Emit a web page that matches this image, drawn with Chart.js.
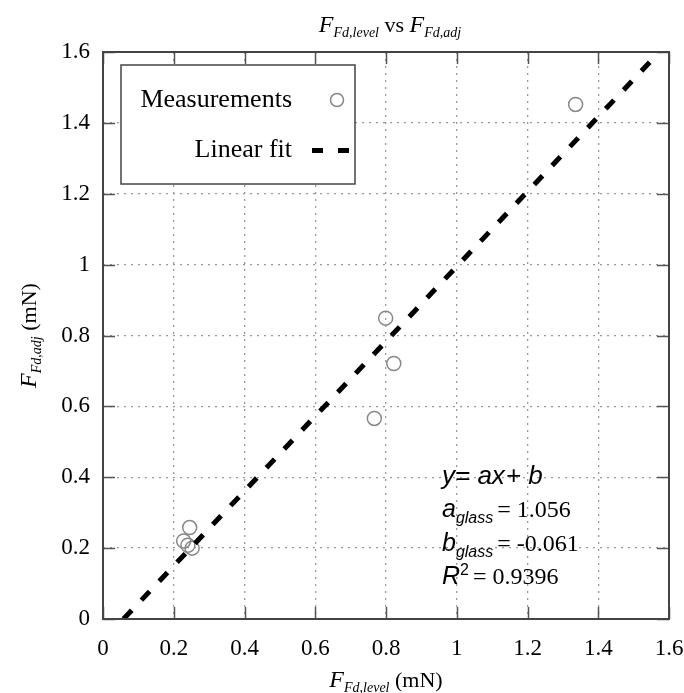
<!DOCTYPE html>
<html><head><meta charset="utf-8">
<script src="https://cdn.jsdelivr.net/npm/chart.js@4/dist/chart.umd.min.js"></script>
<style>html,body{margin:0;padding:0;background:#fff}#wrap{width:684px;height:693px;position:relative}</style>
</head><body><div id="wrap"><canvas id="c" width="684" height="693"></canvas></div>
<script>
// ---- data ----
const measX = [0.245, 0.228, 0.240, 0.252, 0.767, 0.799, 0.822, 1.336];
const measY = [0.258, 0.220, 0.208, 0.200, 0.566, 0.849, 0.721, 1.452];
const fitX = [0.058, 1.573];
const fitY = [0, 1.6];
const xTickLabels = ['0','0.2','0.4','0.6','0.8','1','1.2','1.4','1.6'];
const yTickLabels = ['0','0.2','0.4','0.6','0.8','1','1.2','1.4','1.6'];
const seriesNames = ['Measurements', 'Linear fit'];
const fitA = '1.056';
const fitB = '-0.061';
const fitR2 = '0.9396';

const SERIF = '"Liberation Serif", "Times New Roman", serif';
const SANS = '"Liberation Sans", Arial, sans-serif';

function drawRich(ctx, parts, x, y, align) {
  let w = 0;
  parts.forEach(p => { ctx.font = p.f; p.w = ctx.measureText(p.t).width; w += p.w + (p.gap || 0); });
  let cx = align === 'center' ? x - w / 2 : x;
  ctx.textBaseline = 'alphabetic';
  ctx.textAlign = 'left';
  parts.forEach(p => { ctx.font = p.f; ctx.fillText(p.t, cx, y + (p.dy || 0)); cx += p.w + (p.gap || 0); });
}

const decor = {
  id: 'decor',
  afterDraw(chart) {
    const ctx = chart.ctx;
    const a = chart.chartArea;
    const xs = chart.scales.x, ys = chart.scales.y;
    ctx.save();
    // inside tick marks on all four sides
    ctx.strokeStyle = '#555';
    ctx.lineWidth = 1.5;
    const tl = 12;
    ctx.beginPath();
    xs.ticks.forEach(t => {
      const px = Math.round(xs.getPixelForValue(t.value)) + 0.5;
      ctx.moveTo(px, a.bottom); ctx.lineTo(px, a.bottom - tl);
      ctx.moveTo(px, a.top); ctx.lineTo(px, a.top + tl);
    });
    ys.ticks.forEach(t => {
      const py = Math.round(ys.getPixelForValue(t.value)) + 0.5;
      ctx.moveTo(a.left, py); ctx.lineTo(a.left + tl, py);
      ctx.moveTo(a.right, py); ctx.lineTo(a.right - tl, py);
    });
    ctx.stroke();
    // frame
    ctx.lineWidth = 2;
    ctx.strokeStyle = '#444';
    ctx.strokeRect(a.left, a.top, a.right - a.left, a.bottom - a.top);

    ctx.fillStyle = '#000';
    // title
    drawRich(ctx, [
      {t: 'F', f: 'italic 24px ' + SERIF},
      {t: 'Fd,level', f: 'italic 14px ' + SERIF, dy: 5},
      {t: ' vs ', f: '22px ' + SERIF},
      {t: 'F', f: 'italic 24px ' + SERIF},
      {t: 'Fd,adj', f: 'italic 14px ' + SERIF, dy: 5}
    ], (a.left + a.right) / 2 + 4, 32, 'center');
    // x axis title
    drawRich(ctx, [
      {t: 'F', f: 'italic 24px ' + SERIF},
      {t: 'Fd,level', f: 'italic 14px ' + SERIF, dy: 5},
      {t: ' (mN)', f: '22px ' + SERIF}
    ], (a.left + a.right) / 2, 687, 'center');
    // y axis title
    ctx.save();
    ctx.translate(36, (a.top + a.bottom) / 2);
    ctx.rotate(-Math.PI / 2);
    drawRich(ctx, [
      {t: 'F', f: 'italic 24px ' + SERIF},
      {t: 'Fd,adj', f: 'italic 14px ' + SERIF, dy: 5},
      {t: ' (mN)', f: '22px ' + SERIF}
    ], 0, 0, 'center');
    ctx.restore();

    // legend box
    const lx = 121, ly = 65, lw = 234, lh = 119;
    ctx.fillStyle = '#fff';
    ctx.fillRect(lx, ly, lw, lh);
    ctx.lineWidth = 1.5;
    ctx.strokeStyle = '#444';
    ctx.strokeRect(lx, ly, lw, lh);
    ctx.fillStyle = '#000';
    ctx.font = '26px ' + SERIF;
    ctx.textAlign = 'right';
    ctx.textBaseline = 'middle';
    ctx.fillText(seriesNames[0], 292, 100);
    ctx.fillText(seriesNames[1], 292, 150);
    // legend symbols
    ctx.beginPath();
    ctx.arc(337, 100, 6.5, 0, Math.PI * 2);
    ctx.strokeStyle = '#888';
    ctx.lineWidth = 1.5;
    ctx.stroke();
    ctx.fillStyle = '#000';
    ctx.fillRect(312, 148, 11, 5);
    ctx.fillRect(338, 148, 11, 5);

    // stats annotation
    ctx.fillStyle = '#000';
    const sx = 442;
    drawRich(ctx, [{t: 'y', f: 'italic 26px ' + SANS}, {t: '= ', f: 'italic 26px ' + SANS}, {t: 'ax', f: 'italic 26px ' + SANS, gap: 1}, {t: '+ ', f: 'italic 26px ' + SANS}, {t: 'b', f: 'italic 26px ' + SANS}], sx, 484, 'left');
    drawRich(ctx, [{t: 'a', f: 'italic 25px ' + SANS}, {t: 'glass', f: 'italic 16px ' + SANS, dy: 6, gap: 4}, {t: '= ' + fitA, f: '24px ' + SERIF}], sx, 517, 'left');
    drawRich(ctx, [{t: 'b', f: 'italic 25px ' + SANS}, {t: 'glass', f: 'italic 16px ' + SANS, dy: 6, gap: 4}, {t: '= ' + fitB, f: '24px ' + SERIF}], sx, 551, 'left');
    drawRich(ctx, [{t: 'R', f: 'italic 25px ' + SANS}, {t: '2', f: '16px ' + SANS, dy: -9, gap: 4}, {t: '= ' + fitR2, f: '24px ' + SERIF}], sx, 584, 'left');
    ctx.restore();
  }
};

const ctx = document.getElementById('c').getContext('2d');
new Chart(ctx, {
  type: 'scatter',
  data: {
    datasets: [
      {
        label: seriesNames[1],
        data: fitX.map((x, i) => ({x, y: fitY[i]})),
        showLine: true,
        borderColor: '#000',
        borderWidth: 5,
        borderDash: [12, 14],
        pointRadius: 0,
        fill: false
      },
      {
        label: seriesNames[0],
        data: measX.map((x, i) => ({x, y: measY[i]})),
        pointStyle: 'circle',
        pointRadius: 7,
        pointBorderWidth: 1.5,
        borderColor: '#888',
        backgroundColor: 'rgba(0,0,0,0)',
        pointBackgroundColor: 'rgba(0,0,0,0)',
        pointBorderColor: '#888'
      }
    ]
  },
  options: {
    responsive: false,
    animation: false,
    devicePixelRatio: 1,
    layout: {padding: {left: 0, top: 52, right: 15, bottom: 0}},
    plugins: {legend: {display: false}, title: {display: false}, tooltip: {enabled: false}},
    scales: {
      x: {
        type: 'linear', min: 0, max: 1.6,
        ticks: {stepSize: 0.2, padding: 16, color: '#000', font: {family: SERIF, size: 23},
          callback: (v, i) => xTickLabels[i], maxRotation: 0, autoSkip: false},
        grid: {color: '#9a9a9a', lineWidth: 1.3, drawTicks: false},
        border: {display: false, dash: [2, 5]},
        afterFit: s => { s.height = 74; s.paddingLeft = 0; s.paddingRight = 0; }
      },
      y: {
        type: 'linear', min: 0, max: 1.6,
        ticks: {stepSize: 0.2, padding: 13, color: '#000', font: {family: SERIF, size: 23},
          callback: (v, i) => yTickLabels[i], autoSkip: false},
        grid: {color: '#9a9a9a', lineWidth: 1.3, drawTicks: false},
        border: {display: false, dash: [2, 5]},
        afterFit: s => { s.width = 103; s.paddingTop = 0; s.paddingBottom = 0; }
      }
    }
  },
  plugins: [decor]
});
</script></body></html>
